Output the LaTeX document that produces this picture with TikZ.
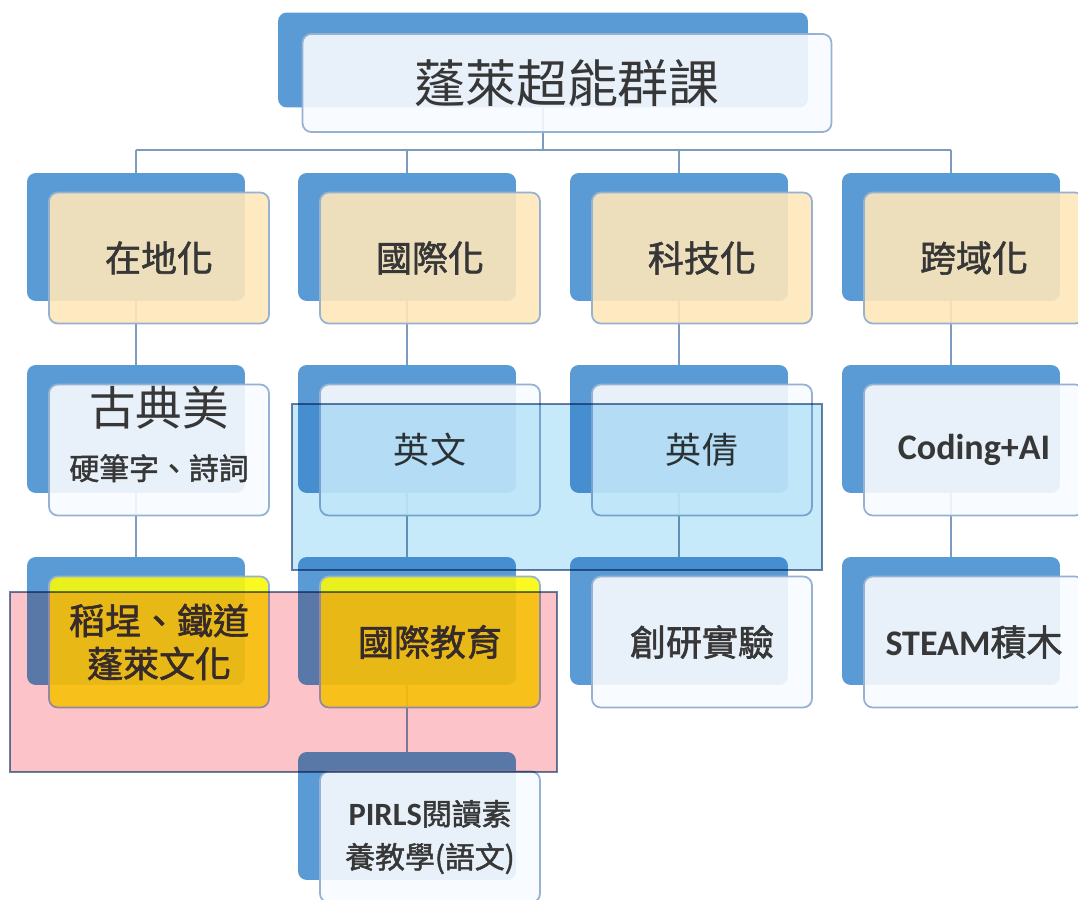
\documentclass[tikz,border=0pt]{standalone}
\usepackage{fontspec}
\newfontfamily\cjk{Noto Sans CJK TC}[BoldFont=Noto Sans CJK TC, BoldFeatures={FakeBold=1.6}]
\newfontfamily\lat{Carlito}
\pgfdeclarelayer{bg}
\pgfsetlayers{bg,main}
\definecolor{backblue}{RGB}{91,155,213}
\definecolor{frontedge}{RGB}{150,178,210}
\definecolor{cardwhite}{RGB}{248,251,255}
\definecolor{peach}{RGB}{255,231,186}
\definecolor{goldy}{RGB}{250,250,10}
\definecolor{pinktint}{RGB}{252,196,200}
\definecolor{cyantint}{RGB}{198,234,250}
\definecolor{tintedge}{RGB}{105,130,165}
\definecolor{linec}{RGB}{125,155,190}
\definecolor{textc}{RGB}{55,55,55}
\begin{document}
\begin{tikzpicture}[x=0.02cm, y=-0.02cm,
    backbox/.style={fill=backblue, rounded corners=5pt, inner sep=0pt,
      minimum width=4.36cm, minimum height=2.56cm},
    frontbox/.style={draw=frontedge, line width=1pt, fill=#1, fill opacity=0.9,
      text opacity=1, rounded corners=5pt, inner sep=0pt, align=center,
      minimum width=4.4cm, minimum height=2.62cm, text=textc,
      font=\cjk\fontsize{20.5}{24.5}\selectfont},
    frontbox/.default=cardwhite,
    link/.style={draw=linec, line width=1pt},
    tintbox/.style={draw=tintedge, line width=1pt, fill=#1, blend mode=multiply}]
  \useasboundingbox (0,0) rectangle (1078,899);

  % root
  \node[backbox, minimum width=10.6cm, minimum height=1.9cm] (root) at (543,60) {};
  \node[frontbox, minimum width=10.58cm, minimum height=1.96cm,
    font=\cjk\fontsize{29}{34}\selectfont] (root-f) at (567,83) {蓬萊超能群課};

  % first level
  \node[backbox] (loc) at (136,237) {};
  \node[frontbox=peach] (loc-f) at (159,258) {\bfseries 在地化};
  \node[backbox] (intl) at (407,237) {};
  \node[frontbox=peach] (intl-f) at (430,258) {\bfseries 國際化};
  \node[backbox] (tech) at (679,237) {};
  \node[frontbox=peach] (tech-f) at (702,258) {\bfseries 科技化};
  \node[backbox] (cross) at (951,237) {};
  \node[frontbox=peach] (cross-f) at (974,258) {\bfseries 跨域化};

  % second level
  \node[backbox] (loc2) at (136,429) {};
  \node[frontbox] (loc2-f) at (159,450) {};
  \node[text=textc, align=center, font=\cjk\fontsize{17}{31}\selectfont]
    (loc2-t) at (159,434) {{\fontsize{26.5}{30}\selectfont 古典美}\\\bfseries 硬筆字、詩詞};
  \node[backbox] (intl2) at (407,429) {};
  \node[frontbox] (intl2-f) at (430,450) {英文};
  \node[backbox] (tech2) at (679,429) {};
  \node[frontbox] (tech2-f) at (702,450) {英倩};
  \node[backbox] (cross2) at (951,429) {};
  \node[frontbox] (cross2-f) at (974,450) {\lat\bfseries Coding+AI};

  % third level
  \node[backbox] (loc3) at (136,621) {};
  \node[frontbox=goldy] (loc3-f) at (159,642) {\bfseries 稻埕、鐵道\\\bfseries 蓬萊文化};
  \node[backbox] (intl3) at (407,621) {};
  \node[frontbox=goldy] (intl3-f) at (430,642) {\bfseries 國際教育};
  \node[backbox] (tech3) at (679,621) {};
  \node[frontbox] (tech3-f) at (702,642) {\bfseries 創研實驗};
  \node[backbox] (cross3) at (951,621) {};
  \node[frontbox] (cross3-f) at (974,642) {{\lat\bfseries STEAM}\bfseries 積木};

  % fourth level
  \node[backbox] (intl4) at (407,816) {};
  \node[frontbox, font=\cjk\fontsize{17}{24.5}\selectfont] (intl4-f) at (430,837)
    {{\lat\bfseries\fontsize{18.5}{24.5}\selectfont PIRLS}\bfseries 閱讀素\\\bfseries 養教學(語文)};

  % connectors
  \begin{pgfonlayer}{bg}
    \fill[white] (0,0) rectangle (1078,899);
    \coordinate (bus) at (543,150);
    \draw[link] (root) -- (bus);
    \draw[link] (loc |- bus) -- (cross |- bus);
    \foreach \n in {loc,intl,tech,cross}
      \draw[link] (\n |- bus) -- (\n);
    \draw[link] (loc) -- (loc2) -- (loc3);
    \draw[link] (intl) -- (intl2) -- (intl3) -- (intl4);
    \draw[link] (tech) -- (tech2) -- (tech3);
    \draw[link] (cross) -- (cross2) -- (cross3);
  \end{pgfonlayer}

  % highlight frames
  \draw[tintbox=cyantint] (292,404) rectangle (822,570);
  \draw[tintbox=pinktint] (10,592) rectangle (557,772);
\end{tikzpicture}
\end{document}
